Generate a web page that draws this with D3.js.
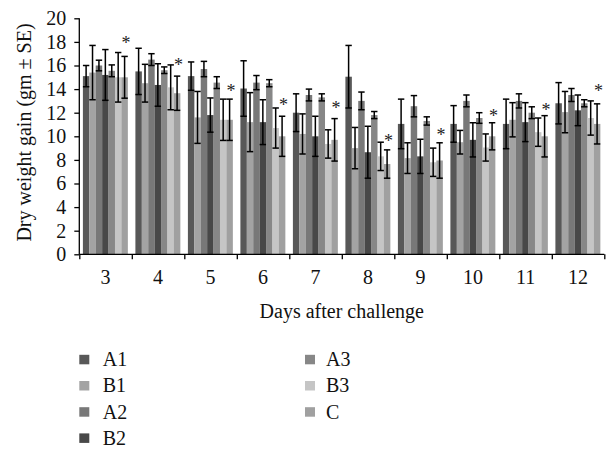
<!DOCTYPE html>
<html><head><meta charset="utf-8">
<script src="https://cdn.jsdelivr.net/npm/d3@7/dist/d3.min.js"></script>
<style>body{margin:0;background:#fff}svg{display:block}text{font-family:"Liberation Serif","Times New Roman",serif;fill:#111}</style>
</head><body><svg id="c" width="608" height="449"></svg>
<script>
const days = ["3","4","5","6","7","8","9","10","11","12"];
const series = ["A1","B1","A2","B2","A3","B3","C"];
const colors = ["#585858","#a3a3a3","#787878","#484848","#878787","#c5c5c5","#a0a0a0"];
const meanA1 = [15.1, 15.5, 15.1, 14.05, 12.0, 15.05, 11.05, 11.05, 11.05, 12.8];
const meanB1 = [15.4, 14.5, 11.6, 11.2, 10.2, 9.0, 8.15, 9.5, 11.4, 12.05];
const meanA2 = [16.0, 16.5, 15.7, 14.55, 13.5, 13.0, 12.55, 13.0, 13.0, 13.5];
const meanB2 = [15.2, 14.35, 11.8, 11.2, 10.0, 8.65, 8.3, 9.7, 11.2, 12.2];
const meanA3 = [15.55, 15.6, 14.55, 14.5, 13.3, 11.8, 11.3, 11.55, 12.0, 12.8];
const meanB3 = [15.0, 14.15, 11.4, 10.7, 9.35, 8.3, 7.8, 9.05, 10.35, 11.55];
const meanC  = [15.0, 13.65, 11.4, 10.0, 9.7, 7.65, 7.95, 10.0, 10.0, 11.05];
const seA1 = [0.9, 1.96, 1.2, 2.35, 1.6, 2.65, 2.1, 1.55, 2.1, 1.75];
const seB1 = [2.3, 1.6, 2.2, 2.5, 1.7, 1.75, 1.3, 1.0, 1.45, 1.75];
const seA2 = [0.45, 0.5, 0.65, 0.6, 0.5, 0.75, 0.9, 0.5, 0.6, 0.55];
const seB2 = [2.15, 1.8, 1.45, 1.9, 1.7, 2.2, 1.45, 1.45, 1.65, 1.3];
const seA3 = [0.5, 0.28, 0.5, 0.3, 0.3, 0.3, 0.35, 0.45, 0.5, 0.3];
const seB3 = [2.1, 1.9, 1.75, 1.7, 1.2, 1.2, 1.2, 1.15, 1.2, 1.45];
const seC  = [1.77, 1.45, 1.75, 1.7, 1.8, 1.2, 1.5, 1.15, 1.75, 1.7];
const starLevel = [18.1, 16.3, 14.1, 12.9, 12.65, 9.85, 10.35, 11.9, 12.45, 14.1];
const yTicks = [0,2,4,6,8,10,12,14,16,18,20];
const yTitle = "Dry weight gain (gm \u00b1 SE)";
const xTitle = "Days after challenge";

const means = [meanA1, meanB1, meanA2, meanB2, meanA3, meanB3, meanC];
const ses = [seA1, seB1, seA2, seB2, seA3, seB3, seC];

const svg = d3.select("#c");
const L = 79.3, R = 604.3, T = 18.3, B = 254.3;
const x = d3.scaleBand().domain(days).range([L, R]).padding(0);
const xi = d3.scaleBand().domain(series).range([3.6, 48.5]).padding(0);
const xb = d3.scaleLinear().domain([0, days.length]).range([L, R]);
const y = d3.scaleLinear().domain([0, 20]).range([B, T]);

const rows = [];
series.forEach((s, si) => days.forEach((d, di) => rows.push({s, si, d, di, v: means[si][di], e: ses[si][di]})));

// bars
svg.append("g").selectAll("rect").data(rows).join("rect")
  .attr("x", r => x(r.d) + xi(r.s))
  .attr("width", xi.bandwidth() + 0.05)
  .attr("y", r => y(r.v))
  .attr("height", r => y(0) - y(r.v))
  .attr("fill", r => colors[r.si]);

// error bars
const eg = svg.append("g").attr("stroke", "#000").attr("stroke-width", 1.5).attr("fill", "none");
rows.forEach(r => {
  const cx = x(r.d) + xi(r.s) + xi.bandwidth() / 2;
  eg.append("line").attr("x1", cx).attr("x2", cx).attr("y1", y(r.v + r.e)).attr("y2", y(r.v - r.e));
  eg.append("line").attr("x1", cx - 3.2).attr("x2", cx + 3.2).attr("y1", y(r.v + r.e)).attr("y2", y(r.v + r.e));
  eg.append("line").attr("x1", cx - 3.2).attr("x2", cx + 3.2).attr("y1", y(r.v - r.e)).attr("y2", y(r.v - r.e));
});

// stars
svg.append("g").selectAll("text").data(days).join("text")
  .attr("x", (d) => x(d) + xi("C") + xi.bandwidth() / 2 + 1.5)
  .attr("y", (d, i) => y(starLevel[i]) + 8.6)
  .attr("text-anchor", "middle")
  .style("font-size", "18px")
  .style("fill", "#222")
  .text("*");

// y axis
const ya = svg.append("g").attr("transform", `translate(${L},0)`)
  .call(d3.axisLeft(y).tickValues(yTicks).tickSize(5).tickPadding(8).tickFormat(d3.format("d")));
ya.select(".domain").attr("stroke", "#000").attr("stroke-width", 1.3).attr("d", `M0,${B}V${T}`);
ya.selectAll(".tick line").attr("stroke", "#000").attr("stroke-width", 1.3);
ya.selectAll("text").style("font-size", "20px").style("fill", "#111");

// x axis boundaries
const xa = svg.append("g").attr("transform", `translate(0,${B})`)
  .call(d3.axisBottom(xb).tickValues(d3.range(days.length + 1)).tickSize(5).tickFormat(""));
xa.select(".domain").attr("stroke", "#000").attr("stroke-width", 1.3).attr("d", `M${L},0H${R}`);
xa.selectAll(".tick line").attr("stroke", "#000").attr("stroke-width", 1.3);

// x labels
const xl = svg.append("g").attr("transform", `translate(0,${B})`)
  .call(d3.axisBottom(x).tickSize(0));
xl.select(".domain").remove();
xl.selectAll("text").attr("dy", null).attr("y", 29.7).style("font-size", "20px").style("fill", "#111");

// titles
svg.append("text").attr("x", (L + R) / 2).attr("y", 318.3).attr("text-anchor", "middle")
  .style("font-size", "20px").text(xTitle);
svg.append("text").attr("transform", `translate(31,132.5) rotate(-90)`).attr("text-anchor", "middle")
  .style("font-size", "20px").text(yTitle);

// legend
const legPos = series.map((s, i) => i < 4 ? {col: 0, row: i} : {col: 1, row: i - 4});
const lg = svg.append("g");
series.forEach((s, i) => {
  const p = legPos[i];
  const sx = p.col === 0 ? 79.3 : 305;
  const tx = p.col === 0 ? 102.7 : 326;
  const cy = 359.5 + p.row * 26.2;
  lg.append("rect").attr("x", sx).attr("y", cy - 4.7).attr("width", 10).attr("height", 9.5).attr("fill", colors[i]);
  lg.append("text").attr("x", tx).attr("y", cy).attr("dy", "0.33em").style("font-size", "20px").text(s);
});
</script></body></html>
